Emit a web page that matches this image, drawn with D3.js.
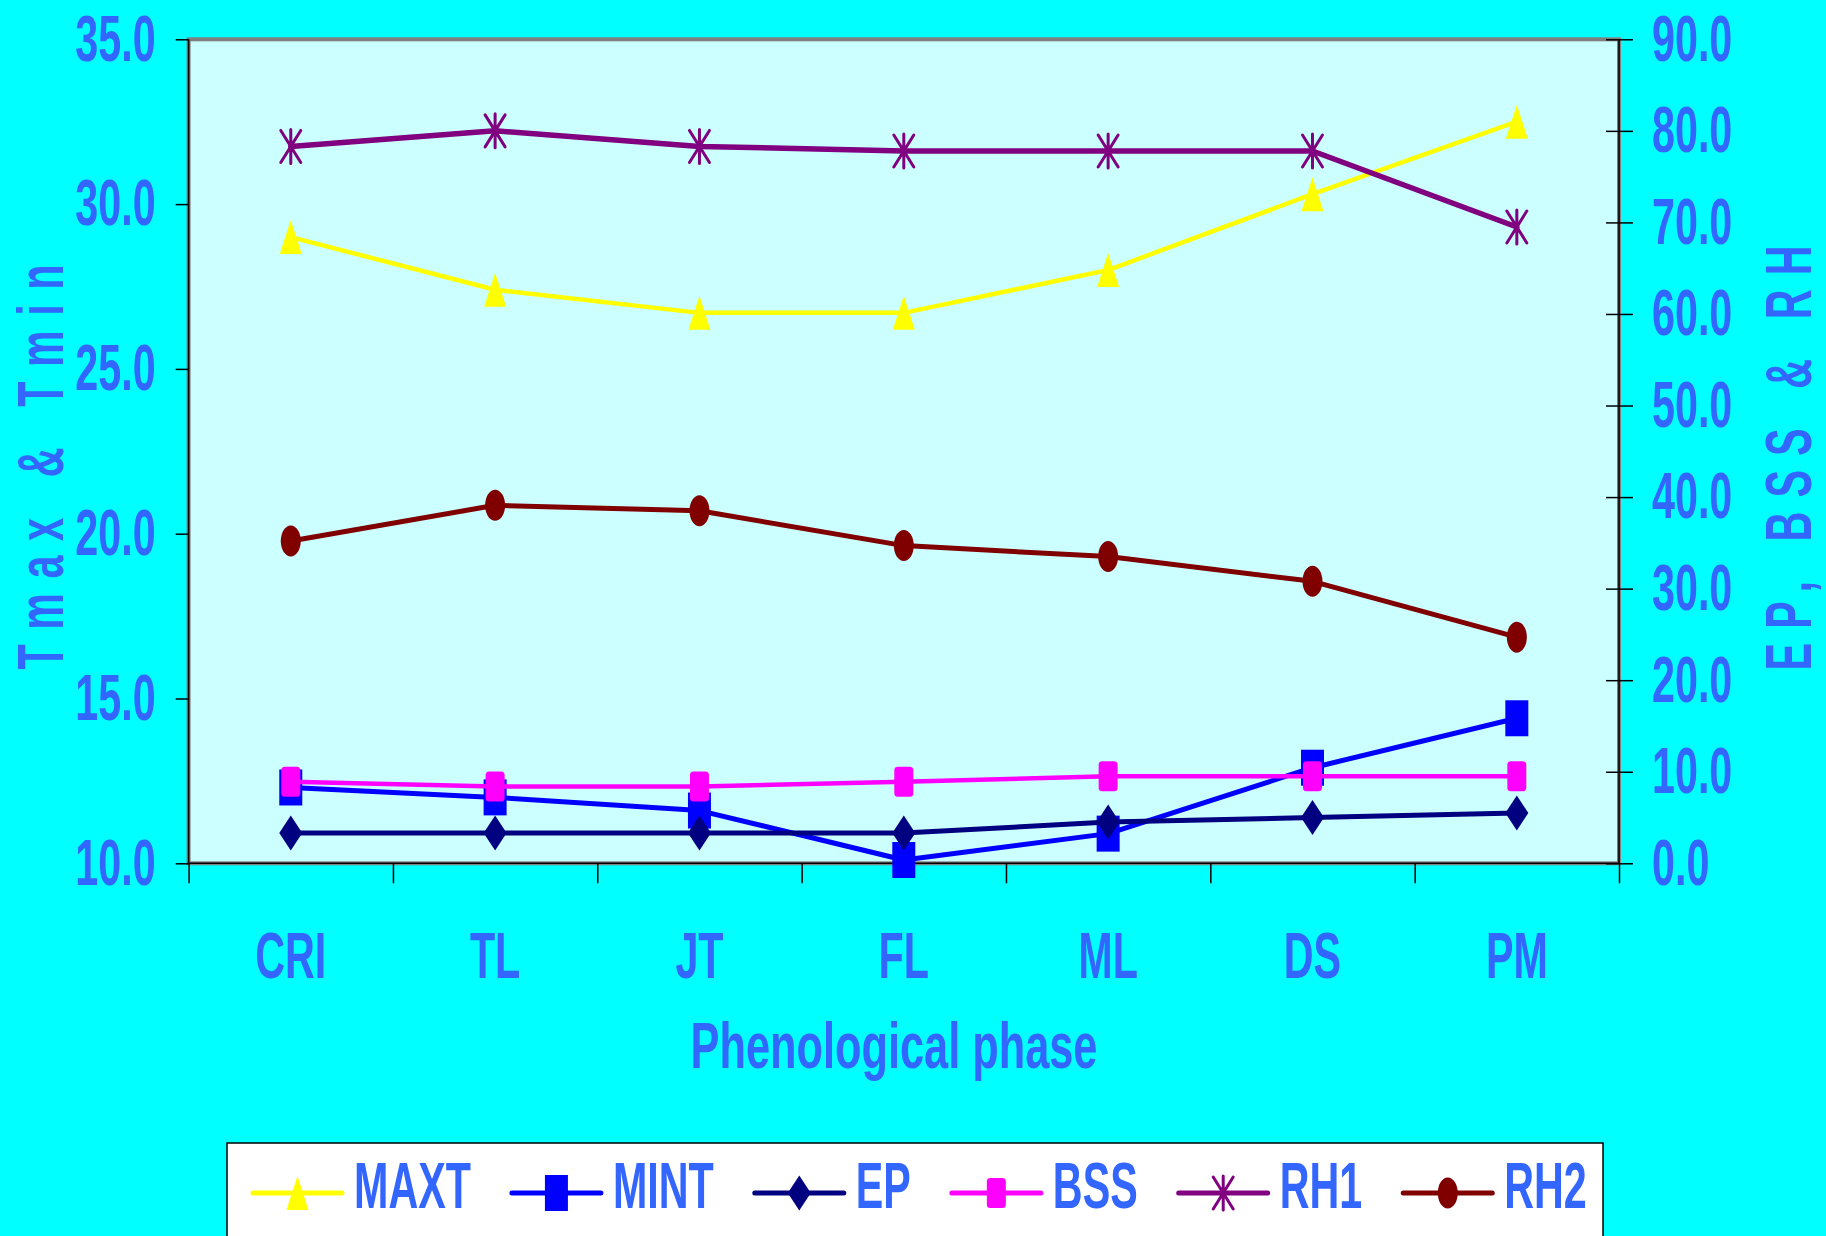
<!DOCTYPE html>
<html>
<head>
<meta charset="utf-8">
<script src="https://cdn.jsdelivr.net/npm/d3@7"></script>
<style>
  html, body { margin: 0; padding: 0; background: #00FFFF; }
  svg { display: block; }
  text { font-family: "Liberation Sans", Arial, sans-serif; font-weight: bold; fill: #3366FF; }
</style>
</head>
<body>
<svg id="chart" width="1826" height="1236"></svg>
<script>
// ---- data ----
const categories = ["CRI", "TL", "JT", "FL", "ML", "DS", "PM"];
const maxt = [29.0, 27.4, 26.7, 26.7, 28.0, 30.3, 32.5];
const mint = [12.3, 12.0, 11.6, 10.1, 10.9, 12.9, 14.4];
const ep   = [3.3, 3.3, 3.3, 3.3, 4.5, 5.0, 5.5];
const bss  = [8.9, 8.4, 8.4, 8.9, 9.5, 9.5, 9.5];
const rh1  = [78.3, 80.0, 78.3, 77.8, 77.8, 77.8, 69.5];
const rh2  = [35.2, 39.1, 38.5, 34.7, 33.5, 30.8, 24.7];
const leftTicks  = [10, 15, 20, 25, 30, 35];
const rightTicks = [0, 10, 20, 30, 40, 50, 60, 70, 80, 90];
const xTitle = "Phenological phase";
const leftTitle = "Tmax & Tmin";
const rightTitle = "EP, BSS & RH";

// ---- layout ----
const SX = 0.635;          // horizontal squeeze of the condensed lettering
const FS = 65;             // font size for all labels
const plot = { left: 188.6, right: 1619, top: 39.3, bottom: 863.3 };

const svg = d3.select("#chart");

const x = d3.scaleBand().domain(categories).range([plot.left, plot.right]);
const cx = c => x(c) + x.bandwidth() / 2;
const xEdge = d3.scaleLinear().domain([0, categories.length]).range([plot.left, plot.right]);
const yL = d3.scaleLinear().domain([10, 35]).range([plot.bottom, plot.top]);
const yR = d3.scaleLinear().domain([0, 90]).range([plot.bottom, plot.top]);

// ---- marker shapes ----
const shapes = {
  triangle: { draw(c) { c.moveTo(0, -17); c.lineTo(11, 17); c.lineTo(-11, 17); c.closePath(); } },
  square:   { draw(c) { c.rect(-11.5, -18, 23, 36); } },
  diamond:  { draw(c) { c.moveTo(0, -17.5); c.lineTo(11.5, 0); c.lineTo(0, 17.5); c.lineTo(-11.5, 0); c.closePath(); } },
  rounded:  { draw(c) {
      const w = 9.5, h = 15, r = 3.5;
      c.moveTo(-w + r, -h); c.lineTo(w - r, -h); c.arcTo(w, -h, w, -h + r, r);
      c.lineTo(w, h - r); c.arcTo(w, h, w - r, h, r);
      c.lineTo(-w + r, h); c.arcTo(-w, h, -w, h - r, r);
      c.lineTo(-w, -h + r); c.arcTo(-w, -h, -w + r, -h, r); c.closePath(); } },
  star:     { draw(c) {
      c.moveTo(0, -17); c.lineTo(0, 17);
      c.moveTo(-10, -16); c.lineTo(10, 16);
      c.moveTo(10, -16); c.lineTo(-10, 16); } },
  ellipse:  { draw(c) {
      const rx = 10, ry = 15.5, k = 0.5523;
      c.moveTo(0, -ry);
      c.bezierCurveTo(rx * k, -ry, rx, -ry * k, rx, 0);
      c.bezierCurveTo(rx, ry * k, rx * k, ry, 0, ry);
      c.bezierCurveTo(-rx * k, ry, -rx, ry * k, -rx, 0);
      c.bezierCurveTo(-rx, -ry * k, -rx * k, -ry, 0, -ry);
      c.closePath(); } }
};

const series = [
  { name: "MAXT", values: maxt, y: yL, color: "#FFFF00", shape: "triangle", width: 4.5 },
  { name: "MINT", values: mint, y: yL, color: "#0000FF", shape: "square",   width: 5 },
  { name: "EP",   values: ep,   y: yR, color: "#000080", shape: "diamond",  width: 5 },
  { name: "BSS",  values: bss,  y: yR, color: "#FF00FF", shape: "rounded",  width: 4.5 },
  { name: "RH1",  values: rh1,  y: yR, color: "#800080", shape: "star",     width: 5.5 },
  { name: "RH2",  values: rh2,  y: yR, color: "#800000", shape: "ellipse",  width: 5 }
];

function markerStyle(sel, s) {
  if (s.shape === "star") {
    sel.attr("fill", "none").attr("stroke", s.color).attr("stroke-width", 3).attr("stroke-linecap", "round");
  } else {
    sel.attr("fill", s.color).attr("stroke", "none");
  }
}

// ---- plot area ----
svg.append("rect")
  .attr("x", plot.left).attr("y", plot.top)
  .attr("width", plot.right - plot.left).attr("height", plot.bottom - plot.top)
  .attr("fill", "#CCFFFF").attr("stroke", "#808080").attr("stroke-width", 4);

// ---- axes ----
function styleTicks(g) {
  g.selectAll(".tick line").attr("stroke", "#000").attr("stroke-width", 1.5);
  g.select(".domain").remove();
}

const gL = svg.append("g").attr("transform", `translate(${plot.left},0)`)
  .call(d3.axisLeft(yL).tickValues(leftTicks).tickFormat(d3.format(".1f")).tickSizeInner(13).tickSizeOuter(0));
styleTicks(gL);
gL.selectAll(".tick text")
  .attr("x", 0).attr("dy", "0.32em").attr("text-anchor", "end")
  .attr("transform", `translate(-33,0) scale(${SX},1)`)
  .style("font-size", FS + "px").attr("fill", null);

const gR = svg.append("g").attr("transform", `translate(${plot.right - 13},0)`)
  .call(d3.axisRight(yR).tickValues(rightTicks).tickFormat(d3.format(".1f")).tickSizeInner(27).tickSizeOuter(0));
styleTicks(gR);
gR.selectAll(".tick text")
  .attr("x", 0).attr("dy", "0.32em").attr("text-anchor", "start")
  .attr("transform", `translate(46,0) scale(${SX},1)`)
  .style("font-size", FS + "px").attr("fill", null);

const gE = svg.append("g").attr("transform", `translate(0,${plot.bottom})`)
  .call(d3.axisBottom(xEdge).tickValues(d3.range(categories.length + 1)).tickFormat("").tickSizeInner(20).tickSizeOuter(0));
styleTicks(gE);

const gX = svg.append("g").attr("transform", `translate(0,${plot.bottom})`)
  .call(d3.axisBottom(x).tickSize(0));
gX.select(".domain").remove();
gX.selectAll(".tick text")
  .attr("y", 0).attr("dy", 0).attr("text-anchor", "middle")
  .attr("transform", `translate(0,114.7) scale(${SX},1)`)
  .style("font-size", FS + "px").attr("fill", null);

// axis lines
svg.append("g").attr("stroke", "#000").attr("stroke-width", 1.6)
  .selectAll("line")
  .data([[plot.left, plot.top, plot.left, plot.bottom],
         [plot.right, plot.top, plot.right, plot.bottom],
         [plot.left, plot.bottom, plot.right, plot.bottom]])
  .join("line")
  .attr("x1", d => d[0]).attr("y1", d => d[1]).attr("x2", d => d[2]).attr("y2", d => d[3]);

// ---- series ----
series.forEach(s => {
  const line = d3.line().x((d, i) => cx(categories[i])).y(d => s.y(d));
  const g = svg.append("g");
  g.append("path").attr("d", line(s.values))
    .attr("fill", "none").attr("stroke", s.color).attr("stroke-width", s.width)
    .attr("stroke-linejoin", "round").attr("stroke-linecap", "round");
  const sym = d3.symbol().type(shapes[s.shape]);
  g.selectAll(".m").data(s.values).join("path")
    .attr("transform", (d, i) => `translate(${cx(categories[i])},${s.y(d)})`)
    .attr("d", sym)
    .call(markerStyle, s);
});

// ---- titles ----
svg.append("text")
  .attr("text-anchor", "middle")
  .attr("transform", `translate(894,1068) scale(${SX * 1.05},1)`)
  .style("font-size", FS + "px")
  .text(xTitle);

svg.append("text")
  .attr("text-anchor", "middle")
  .attr("transform", `translate(63,467) rotate(-90) scale(${SX},1)`)
  .attr("textLength", 405 / SX).attr("lengthAdjust", "spacing")
  .style("font-size", FS + "px")
  .text(leftTitle);

svg.append("text")
  .attr("text-anchor", "middle")
  .attr("transform", `translate(1811,458) rotate(-90) scale(${SX},1)`)
  .attr("textLength", 425 / SX).attr("lengthAdjust", "spacing")
  .style("font-size", FS + "px")
  .text(rightTitle);

// ---- legend ----
svg.append("rect")
  .attr("x", 227).attr("y", 1143).attr("width", 1376).attr("height", 140)
  .attr("fill", "#FFFFFF").attr("stroke", "#000").attr("stroke-width", 1.5);

let lx = 253;
const ly = 1193;
series.forEach(s => {
  const g = svg.append("g");
  g.append("line").attr("x1", lx).attr("x2", lx + 89).attr("y1", ly).attr("y2", ly)
    .attr("stroke", s.color).attr("stroke-width", 5).attr("stroke-linecap", "round");
  g.append("path").attr("transform", `translate(${lx + 44.5},${ly})`)
    .attr("d", d3.symbol().type(shapes[s.shape]))
    .call(markerStyle, s);
  const t = g.append("text")
    .attr("transform", `translate(${lx + 101},1208) scale(${SX},1)`)
    .style("font-size", FS + "px")
    .text(s.name);
  const w = t.node().getComputedTextLength() * SX;
  lx = lx + 101 + w + 41;
});
</script>
</body>
</html>
